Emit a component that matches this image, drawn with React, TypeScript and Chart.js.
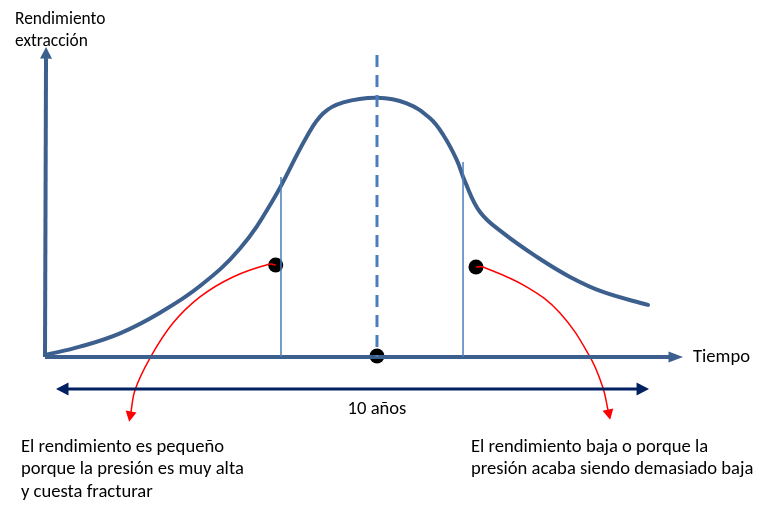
import React, { useEffect, useRef } from "react";
import { Chart, registerables } from "chart.js";

Chart.register(...registerables);

// Time (years, axis origin = 0) and extraction yield (relative units, peak = 100)
const curveTime = [0, 0.583, 1.25, 1.917, 2.583, 3.25, 3.8, 4.362, 4.638, 4.972, 5.538, 6.028, 6.417, 6.638, 6.862, 7.0, 7.25, 7.633, 8.2, 8.75, 9.3, 10.05];
const curveYield = [0.77, 3.98, 9.15, 17.1, 27.4, 41.9, 60.6, 85.06, 94.1, 98.3, 100.1, 97.95, 92.16, 85.7, 76.1, 67.7, 56.0, 47.9, 38.6, 30.9, 25.1, 20.1];

const peakTime = 5.533;
const peakLineTop = 116.6;
const lowPhaseTime = 3.933;
const lowPhaseTop = 69.5;
const declineTime = 6.967;
const declineTop = 75.3;

const markerTime = [3.845, 7.183, 5.533];
const markerYield = [35.5, 34.75, 0.4];

const leftArcTime = [3.845, 3.75, 3.133, 2.583, 2.133, 1.75, 1.5, 1.433];
const leftArcYield = [35.5, 35.9, 30.9, 23.2, 13.1, -0.4, -12.7, -21.2];
const rightArcTime = [7.183, 7.3, 8.033, 8.583, 9.083, 9.3, 9.383];
const rightArcYield = [34.75, 34.75, 27.0, 17.0, 0, -12.0, -20.5];

const yAxisTime = [0, 0.017];
const yAxisYield = [0, 115.4];
const xAxisTime = [0, 10.4];
const xAxisYield = [0, 0];
const spanTime = [0.383, 9.867];
const spanYield = [-12.36, -12.36];

const yAxisTitle = ["Rendimiento", "extracción"];
const xAxisTitle = "Tiempo";
const spanLabel = "10 años";
const leftNote = ["El rendimiento es pequeño", "porque la presión es muy alta", "y cuesta fracturar"];
const rightNote = ["El rendimiento baja o porque la", "presión acaba siendo demasiado baja"];

const AXIS = "#3C5F8E";
const GUIDE = "#4A7EBB";
const NAVY = "#002060";
const RED = "#FF0000";
const FONT = "18.6px Carlito, Lato, 'Liberation Sans', sans-serif";
const FONT_SMALL = "17.4px Carlito, Lato, 'Liberation Sans', sans-serif";

const pts = (xs: number[], ys: number[]) => xs.map((x, i) => ({ x, y: ys[i] }));

const lineDs = (data: any[], color: string, width: number, extra: any = {}) => ({
  data,
  showLine: true,
  borderColor: color,
  backgroundColor: color,
  borderWidth: width,
  pointRadius: 0,
  pointHoverRadius: 0,
  tension: 0,
  ...extra,
});

const arrowPlugin = {
  id: "arrowHeads",
  afterDatasetsDraw(chart: any) {
    const ctx = chart.ctx;
    chart.data.datasets.forEach((ds: any, i: number) => {
      const a = ds.arrow;
      if (!a) return;
      const els = chart.getDatasetMeta(i).data;
      const head = (p: any, q: any) => {
        const dx = p.x - q.x;
        const dy = p.y - q.y;
        const l = Math.hypot(dx, dy) || 1;
        const ux = dx / l, uy = dy / l;
        const tx = p.x + ux * a.len, ty = p.y + uy * a.len;
        const bx = p.x - ux * 0.5, by = p.y - uy * 0.5;
        ctx.save();
        ctx.fillStyle = ds.borderColor;
        ctx.beginPath();
        ctx.moveTo(tx, ty);
        ctx.lineTo(bx - uy * a.half, by + ux * a.half);
        ctx.lineTo(bx + uy * a.half, by - ux * a.half);
        ctx.closePath();
        ctx.fill();
        ctx.restore();
      };
      const n = els.length;
      head(els[n - 1], els[n - 2]);
      if (a.both) head(els[0], els[1]);
    });
  },
};

const textPlugin = {
  id: "texts",
  afterDraw(chart: any) {
    const ctx = chart.ctx;
    const sx = chart.scales.x;
    const sy = chart.scales.y;
    const put = (lines: string[], t: number, v: number, align: CanvasTextAlign, font = FONT, lh = 22.5) => {
      ctx.save();
      ctx.font = font;
      ctx.fillStyle = "#000";
      ctx.textAlign = align;
      ctx.textBaseline = "middle";
      const x = sx.getPixelForValue(t);
      const y0 = sy.getPixelForValue(v);
      lines.forEach((s, k) => ctx.fillText(s, x, y0 + k * lh));
      ctx.restore();
    };
    put(yAxisTitle, -0.5, 130.1, "left", FONT_SMALL, 22);
    put([xAxisTitle], 10.8, -0.2, "left");
    put([spanLabel], 5.533, -20.1, "center");
    put(leftNote, -0.4, -34.75, "left");
    put(rightNote, 7.1, -34.75, "left");
  },
};

export default function App() {
  const ref = useRef<HTMLCanvasElement | null>(null);
  useEffect(() => {
    document.body.style.margin = "0";
    const c = ref.current;
    if (!c) return;
    const chart = new Chart(c, {
      type: "scatter",
      data: {
        datasets: [
          lineDs(pts([lowPhaseTime, lowPhaseTime], [lowPhaseTop, 0]), GUIDE, 1.5),
          lineDs(pts([declineTime, declineTime], [declineTop, 0]), GUIDE, 1.5),
          lineDs(pts([peakTime, peakTime], [peakLineTop, 0]), GUIDE, 3, { borderDash: [12, 8] }),
          lineDs(pts(spanTime, spanYield), NAVY, 3, { arrow: { len: 12, half: 6.5, both: true } }),
          lineDs(pts(yAxisTime, yAxisYield), AXIS, 4, { arrow: { len: 11, half: 6 } }),
          lineDs(pts(xAxisTime, xAxisYield), AXIS, 4, { arrow: { len: 14, half: 5.5 } }),
          lineDs(pts(curveTime, curveYield), AXIS, 4, { tension: 0.4, borderCapStyle: "round", borderJoinStyle: "round" }),
          lineDs(pts(leftArcTime, leftArcYield), RED, 1.5, { tension: 0.4, arrow: { len: 10, half: 5.5 } }),
          lineDs(pts(rightArcTime, rightArcYield), RED, 1.5, { tension: 0.4, arrow: { len: 10, half: 5.5 } }),
          {
            data: pts(markerTime, markerYield),
            showLine: false,
            pointRadius: 7.5,
            pointHoverRadius: 7.5,
            backgroundColor: "#000",
            borderColor: "#000",
            borderWidth: 0,
          },
        ] as any,
      },
      options: {
        animation: false,
        responsive: false,
        devicePixelRatio: 1,
        events: [],
        layout: { padding: 0, autoPadding: false },
        plugins: { legend: { display: false }, tooltip: { enabled: false } },
        scales: {
          x: { type: "linear", min: -0.75, max: 12.183, display: false },
          y: { type: "linear", min: -60.62, max: 137.84, display: false },
        },
      },
      plugins: [arrowPlugin, textPlugin],
    });
    return () => chart.destroy();
  }, []);
  return (
    <div style={{ position: "absolute", left: 0, top: 0, width: 776, height: 514, background: "#fff" }}>
      <canvas ref={ref} width={776} height={514} style={{ width: 776, height: 514 }} />
    </div>
  );
}
